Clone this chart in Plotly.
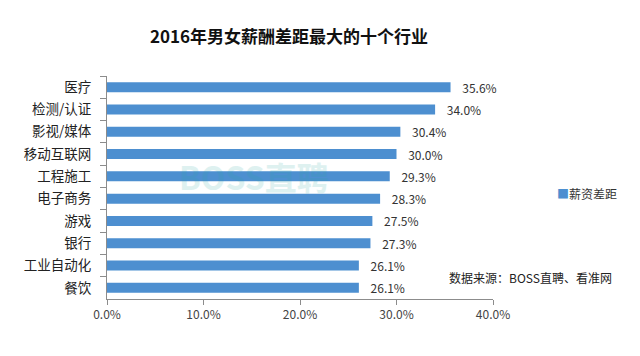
import plotly.graph_objects as go

categories = ["医疗", "检测/认证", "影视/媒体", "移动互联网", "工程施工", "电子商务", "游戏", "银行", "工业自动化", "餐饮"]
values = [35.6, 34.0, 30.4, 30.0, 29.3, 28.3, 27.5, 27.3, 26.1, 26.1]
x_ticks = [0, 10, 20, 30, 40]
x_tick_labels = ["0.0%", "10.0%", "20.0%", "30.0%", "40.0%"]
series_name = "薪资差距"
title_text = "2016年男女薪酬差距最大的十个行业"
source_text = "数据来源：BOSS直聘、看准网"

FONT = "Noto Sans CJK SC"
BAR = "#4d8fd0"
OFF = 8  # page body margin
W, H = 640 - OFF, 356 - OFF
L, R, T, B = 99, 147, 68, 57
PW, PH = W - L - R, H - T - B


def px(x):
    return (x - OFF - L) / PW


def py(y):
    return (H - B - (y - OFF)) / PH


fig = go.Figure()
fig.add_trace(go.Bar(
    y=categories,
    x=values,
    orientation="h",
    name=series_name,
    marker=dict(color=BAR, line=dict(width=0)),
    text=["\u2002\u00a0" + f"{v:.1f}%" for v in values],
    textposition="outside",
    constraintext="none",
    textfont=dict(family=FONT, size=12, color="#333333"),
    cliponaxis=False,
    showlegend=False,
))

fig.update_layout(
    width=W, height=H,
    margin=dict(l=L, r=R, t=T, b=B, autoexpand=False),
    paper_bgcolor="white", plot_bgcolor="white",
    font=dict(family=FONT, size=12, color="#333333"),
    bargap=0.55,
    showlegend=False,
    title=dict(text=f"<b>{title_text}</b>", x=(289 - OFF) / W, xanchor="center",
               y=1 - (37 - OFF) / H, yanchor="middle",
               font=dict(family=FONT, size=17, color="#111111")),
    xaxis=dict(range=[0, 40], tickvals=x_ticks, ticktext=x_tick_labels,
               showgrid=False, zeroline=False, showline=True, linecolor="#8c8c8c",
               ticks="outside", ticklen=5, tickcolor="#8c8c8c", automargin=False,
               tickfont=dict(family=FONT, size=12, color="#444444")),
    yaxis=dict(autorange="reversed", showgrid=False, zeroline=False,
               showline=True, linecolor="#8c8c8c", ticks="outside", ticklen=6,
               tickcolor="#8c8c8c", tickson="boundaries", automargin=False,
               ticklabelstandoff=12,
               tickfont=dict(family=FONT, size=13.5, color="#222222")),
)

fig.add_annotation(text="<b>BOSS直聘</b>", xref="paper", yref="paper", x=px(254), y=py(176),
                   showarrow=False, opacity=0.15,
                   font=dict(family=FONT, size=32, color="#2aa6a0"))
fig.add_annotation(text=f"<span style='color:{BAR}'>■</span>{series_name}",
                   xref="paper", yref="paper", x=px(555), y=py(193),
                   xanchor="left", yanchor="middle", showarrow=False,
                   font=dict(family=FONT, size=12, color="#333333"))
fig.add_annotation(text=source_text, xref="paper", yref="paper", x=px(614), y=py(277),
                   xanchor="right", yanchor="middle", showarrow=False,
                   font=dict(family=FONT, size=12, color="#222222"))

fig.write_html("out.html")
